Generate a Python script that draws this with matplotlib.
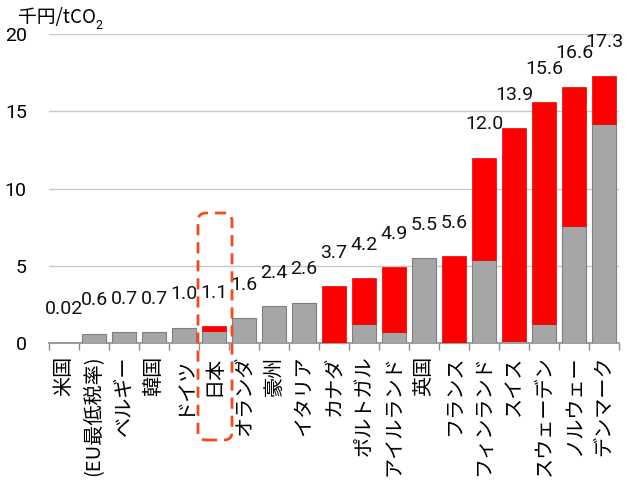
import matplotlib
matplotlib.use("Agg")
import matplotlib.pyplot as plt
from matplotlib.patches import FancyBboxPatch
from matplotlib.transforms import IdentityTransform

countries = ["米国", "(EU最低税率)", "ベルギー", "韓国", "ドイツ", "日本", "オランダ", "豪州",
             "イタリア", "カナダ", "ポルトガル", "アイルランド", "英国", "フランス",
             "フィンランド", "スイス", "スウェーデン", "ノルウェー", "デンマーク"]
base = [0.02, 0.6, 0.7, 0.7, 1.0, 0.8, 1.6, 2.4, 2.6, 0.0, 1.2, 0.7, 5.5, 0.0,
        5.4, 0.1, 1.2, 7.6, 14.2]
extra = [0.0, 0.0, 0.0, 0.0, 0.0, 0.3, 0.0, 0.0, 0.0, 3.7, 3.0, 4.2, 0.0, 5.6,
         6.6, 13.8, 14.4, 9.0, 3.1]
totals = ["0.02", "0.6", "0.7", "0.7", "1.0", "1.1", "1.6", "2.4", "2.6", "3.7", "4.2",
          "4.9", "5.5", "5.6", "12.0", "13.9", "15.6", "16.6", "17.3"]
highlight = "日本"

NUM_FONT = ["Roboto", "Liberation Sans"]
JP_FONT = ["Noto Sans CJK JP", "DejaVu Sans"]

fig = plt.figure(figsize=(6.25, 4.82), dpi=100)
ax = fig.add_axes([49 / 625, 139 / 482, 570 / 625, 309 / 482])

x = list(range(len(countries)))
ax.bar(x, base, width=0.8, color="#a6a6a6", edgecolor="#7f7f7f", linewidth=0.8, zorder=3)
# red part only where there is something to stack
xr = [i for i in x if extra[i] > 0]
ax.bar(xr, [extra[i] for i in xr], bottom=[base[i] for i in xr], width=0.8,
       color="#ff0000", edgecolor="#e60000", linewidth=0.5, zorder=3)

for i, lab in enumerate(totals):
    top = base[i] + extra[i]
    ax.annotate(lab, (i, top), xytext=(0, 24), textcoords="offset points",
                ha="center", va="center", fontsize=14, family=NUM_FONT, color="#111111")

ax.set_xlim(-0.5, len(countries) - 0.5)
ax.set_ylim(0, 20)
ax.set_yticks([0, 5, 10, 15, 20])
ax.yaxis.grid(True, color="#c8c8c8", linewidth=1.0, zorder=0)
for t in ax.get_yticklabels():
    t.set_family(NUM_FONT)
ax.tick_params(axis="y", length=0, pad=16, labelsize=14)

# category names under the bars, ticks between categories
ax.set_xticks([i - 0.5 for i in x] + [len(x) - 0.5], minor=True)
ax.set_xticks(x)
ax.set_xticklabels(countries, rotation=90, family=JP_FONT, fontsize=14.5, va="top")
ax.tick_params(axis="x", which="major", length=0, pad=9)
ax.tick_params(axis="x", which="minor", length=5, color="#8c8c8c", width=1)

for s in ["left", "right", "top"]:
    ax.spines[s].set_visible(False)
ax.spines["bottom"].set_color("#8c8c8c")
ax.spines["bottom"].set_linewidth(1.2)

unit = fig.text(18 / 625, 1 - 17 / 482, "千円/tCO", family=JP_FONT, fontsize=13.5,
                ha="left", va="center")

fig.canvas.draw()
H = fig.bbox.height
ub = unit.get_window_extent()
fig.text((ub.x1 - 1) / fig.bbox.width, (ub.y0 + 2) / H, "2", family=NUM_FONT,
         fontsize=9, ha="left", va="center")

# dashed rounded frame around the highlighted country
hi = countries.index(highlight)
cx = ax.transData.transform((hi, 0))[0]
frame = FancyBboxPatch((cx - 13, H - 437), 28, 221,
                       boxstyle="round,pad=3,rounding_size=8",
                       transform=IdentityTransform(), fill=False,
                       edgecolor="#f04a1e", linewidth=2, linestyle=(0, (4, 2.5)))
fig.add_artist(frame)

fig.savefig("out.png", dpi=100)
